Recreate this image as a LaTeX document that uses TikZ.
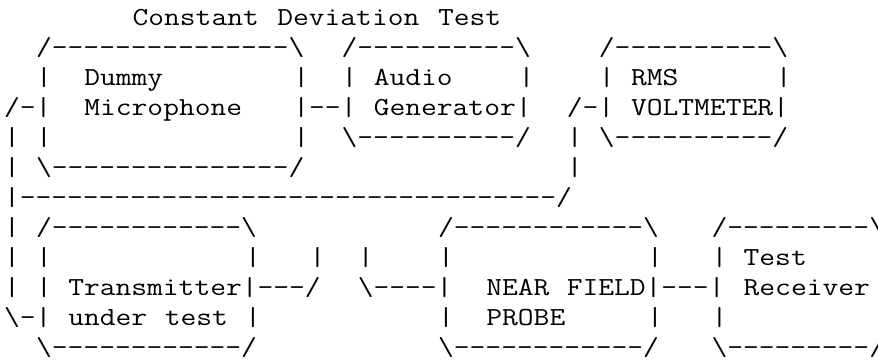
\documentclass[tikz,border=0pt]{standalone}
\usepackage{fontspec}
\setmonofont{Latin Modern Mono}[FakeStretch=1.17802]
\newcommand\bsl{\textbackslash}
\newcommand\asc[4]{\node[txt] (#1) at ({4+16.08*#2},{334-30*#3}) {#4};}
\begin{document}
\begin{tikzpicture}[x=0.75pt,y=0.75pt,
  txt/.style={anchor=base west, inner sep=0pt, outer sep=0pt,
    font=\ttfamily\fontsize{19.5pt}{19.5pt}\selectfont, text=black}]
\useasboundingbox (0,0) rectangle (878,360);
\clip (0,0) rectangle (878,360);
% row 0
\asc{t1}{8}{0}{Constant}
\asc{t2}{17}{0}{Deviation}
\asc{t3}{27}{0}{Test}
% row 1
\asc{r1a}{2}{1}{/---------------\bsl}
\asc{r1b}{21}{1}{/----------\bsl}
\asc{r1c}{37}{1}{/----------\bsl}
% row 2
\asc{r2a}{2}{2}{|}
\asc{r2b}{5}{2}{Dummy}
\asc{r2c}{18}{2}{|}
\asc{r2d}{21}{2}{|}
\asc{r2e}{23}{2}{Audio}
\asc{r2f}{32}{2}{|}
\asc{r2g}{37}{2}{|}
\asc{r2h}{39}{2}{RMS}
\asc{r2i}{48}{2}{|}
% row 3
\asc{r3a}{0}{3}{/-|}
\asc{r3b}{5}{3}{Microphone}
\asc{r3c}{18}{3}{|--|}
\asc{r3d}{23}{3}{Generator|}
\asc{r3e}{35}{3}{/-|}
\asc{r3f}{39}{3}{VOLTMETER|}
% row 4
\asc{r4a}{0}{4}{|}
\asc{r4b}{2}{4}{|}
\asc{r4c}{18}{4}{|}
\asc{r4d}{21}{4}{\bsl----------/}
\asc{r4e}{35}{4}{|}
\asc{r4f}{37}{4}{\bsl----------/}
% row 5
\asc{r5a}{0}{5}{|}
\asc{r5b}{2}{5}{\bsl---------------/}
\asc{r5c}{35}{5}{|}
% row 6
\asc{r6a}{0}{6}{|----------------------------------/}
% row 7
\asc{r7a}{0}{7}{|}
\asc{r7b}{2}{7}{/------------\bsl}
\asc{r7c}{27}{7}{/------------\bsl}
\asc{r7d}{44}{7}{/---------\bsl}
% row 8
\asc{r8a}{0}{8}{|}
\asc{r8b}{2}{8}{|}
\asc{r8c}{15}{8}{|}
\asc{r8d}{19}{8}{|}
\asc{r8e}{22}{8}{|}
\asc{r8f}{27}{8}{|}
\asc{r8g}{40}{8}{|}
\asc{r8h}{44}{8}{|}
\asc{r8i}{46}{8}{Test}
% row 9
\asc{r9a}{0}{9}{|}
\asc{r9b}{2}{9}{|}
\asc{r9c}{4}{9}{Transmitter|---/}
\asc{r9d}{22}{9}{\bsl----|}
\asc{r9e}{30}{9}{NEAR}
\asc{r9f}{35}{9}{FIELD|---|}
\asc{r9g}{46}{9}{Receiver}
% row 10
\asc{r10a}{0}{10}{\bsl-|}
\asc{r10b}{4}{10}{under}
\asc{r10c}{10}{10}{test}
\asc{r10d}{15}{10}{|}
\asc{r10e}{27}{10}{|}
\asc{r10f}{30}{10}{PROBE}
\asc{r10g}{40}{10}{|}
\asc{r10h}{44}{10}{|}
% row 11
\asc{r11a}{2}{11}{\bsl------------/}
\asc{r11b}{27}{11}{\bsl------------/}
\asc{r11c}{44}{11}{\bsl---------/}
\end{tikzpicture}
\end{document}
